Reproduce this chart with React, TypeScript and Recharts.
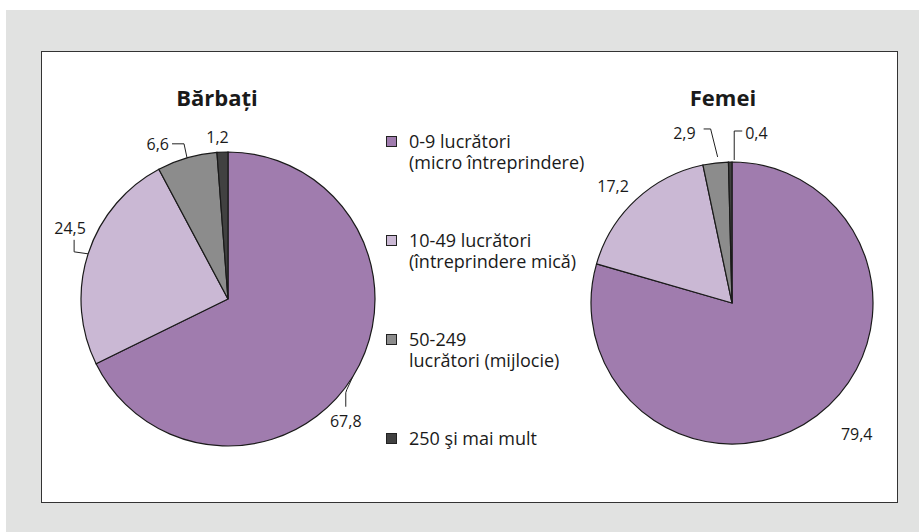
import { PieChart, Pie, Cell, Legend } from 'recharts';

// categories (legend lines split by "\n")
const categories = [
  '0-9 lucrători\n(micro întreprindere)',
  '10-49 lucrători\n(întreprindere mică)',
  '50-249\nlucrători (mijlocie)',
  '250 şi mai mult',
];
const menValues = [67.8, 24.5, 6.6, 1.2];
const womenValues = [79.4, 17.2, 2.9, 0.4];
const titles = ['Bărbați', 'Femei'];
const colors = ['#a07cae', '#cab8d4', '#8c8c8c', '#414141'];

const menData = categories.map((name, i) => ({ name, value: menValues[i] }));
const womenData = categories.map((name, i) => ({ name, value: womenValues[i] }));

const FONT = '"Open Sans", "Noto Sans", sans-serif';
const RAD = Math.PI / 180;

type LabelSpec = {
  dx: number;
  dy: number;
  anchor: 'start' | 'middle' | 'end';
  line?: number[][];
};

// label placement relative to the slice's outer mid point
const menLabelSpecs: LabelSpec[] = [
  { dx: -7, dy: 44, anchor: 'middle', line: [[0, 0], [-6, 13], [-7, 16], [-7, 30]] },
  { dx: -18, dy: -26, anchor: 'middle', line: [[0, 0], [-14, -2], [-14, -14]] },
  { dx: -18, dy: -14, anchor: 'end', line: [[0, 0], [-3, -14], [-15, -14]] },
  { dx: -5, dy: -15, anchor: 'middle' },
];
const womenLabelSpecs: LabelSpec[] = [
  { dx: 40, dy: 18, anchor: 'middle' },
  { dx: -23, dy: -14, anchor: 'middle' },
  { dx: -20, dy: -30, anchor: 'end', line: [[2, -6], [-5, -34], [-12, -34]] },
  { dx: 15, dy: -29, anchor: 'start', line: [[4, -2], [4, -31], [12, -31]] },
];

function makeLabel(specs: LabelSpec[]) {
  return (p: any) => {
    const { cx, cy, midAngle, outerRadius, index, value } = p;
    const ex = cx + outerRadius * Math.cos(-midAngle * RAD);
    const ey = cy + outerRadius * Math.sin(-midAngle * RAD);
    const s = specs[index];
    return (
      <g key={`lbl-${index}`}>
        {s.line && (
          <polyline
            points={s.line.map(([x, y]) => `${ex + x},${ey + y}`).join(' ')}
            fill="none"
            stroke="#222"
            strokeWidth={1}
          />
        )}
        <text
          x={ex + s.dx}
          y={ey + s.dy}
          textAnchor={s.anchor}
          dominantBaseline="central"
          fill="#1a1a1a"
          fontSize={16}
          fontFamily={FONT}
        >
          {String(value).replace('.', ',')}
        </text>
      </g>
    );
  };
}

function renderLegend(props: any) {
  const seen = new Set<string>();
  const items = (props.payload || [])
    .filter((e: any) => {
      if (seen.has(e.value)) return false;
      seen.add(e.value);
      return true;
    })
    .sort((a: any, b: any) => categories.indexOf(a.value) - categories.indexOf(b.value));
  return (
    <div style={{ fontFamily: FONT, fontSize: 18, color: '#1a1a1a', lineHeight: '21px' }}>
      {items.map((e: any) => (
        <div key={e.value} style={{ height: 99, display: 'flex', alignItems: 'flex-start' }}>
          <span
            style={{
              width: 9,
              height: 9,
              marginTop: 5,
              marginRight: 12,
              background: e.color,
              border: '1px solid #222',
              flex: 'none',
            }}
          />
          <span style={{ whiteSpace: 'pre' }}>{e.value}</span>
        </div>
      ))}
    </div>
  );
}

export default function App() {
  return (
    <div style={{ position: 'absolute', left: 0, top: 0, width: 919, height: 532, background: '#fff' }}>
      <div style={{ position: 'absolute', left: 6, top: 10, width: 913, height: 522, background: '#e1e2e1' }} />
      <div
        style={{
          position: 'absolute',
          left: 41,
          top: 51,
          width: 855,
          height: 450,
          background: '#fff',
          border: '1px solid #333',
        }}
      />
      {titles.map((t, i) => (
        <div
          key={t}
          style={{
            position: 'absolute',
            left: i === 0 ? 117 : 623,
            top: 83,
            width: 200,
            textAlign: 'center',
            fontFamily: FONT,
            fontWeight: 700,
            fontSize: 22,
            lineHeight: '28px',
            color: '#1a1a1a',
          }}
        >
          {t}
        </div>
      ))}
      <div style={{ position: 'absolute', left: 0, top: 0 }}>
        <PieChart width={919} height={532} margin={{ top: 0, right: 0, bottom: 0, left: 0 }}>
          <Pie
            data={menData}
            dataKey="value"
            nameKey="name"
            cx={228}
            cy={299}
            outerRadius={147}
            startAngle={90}
            endAngle={-270}
            stroke="#1a1a1a"
            strokeWidth={1.2}
            label={makeLabel(menLabelSpecs)}
            labelLine={false}
            isAnimationActive={false}
          >
            {menData.map((d, i) => (
              <Cell key={d.name} fill={colors[i]} />
            ))}
          </Pie>
          <Pie
            data={womenData}
            dataKey="value"
            nameKey="name"
            cx={732}
            cy={303}
            outerRadius={141}
            startAngle={90}
            endAngle={-270}
            stroke="#1a1a1a"
            strokeWidth={1.2}
            label={makeLabel(womenLabelSpecs)}
            labelLine={false}
            isAnimationActive={false}
          >
            {womenData.map((d, i) => (
              <Cell key={d.name} fill={colors[i]} />
            ))}
          </Pie>
          <Legend
            layout="vertical"
            align="center"
            verticalAlign="middle"
            content={renderLegend}
            wrapperStyle={{ position: 'absolute', left: 386, top: 131, width: 220 }}
          />
        </PieChart>
      </div>
    </div>
  );
}
